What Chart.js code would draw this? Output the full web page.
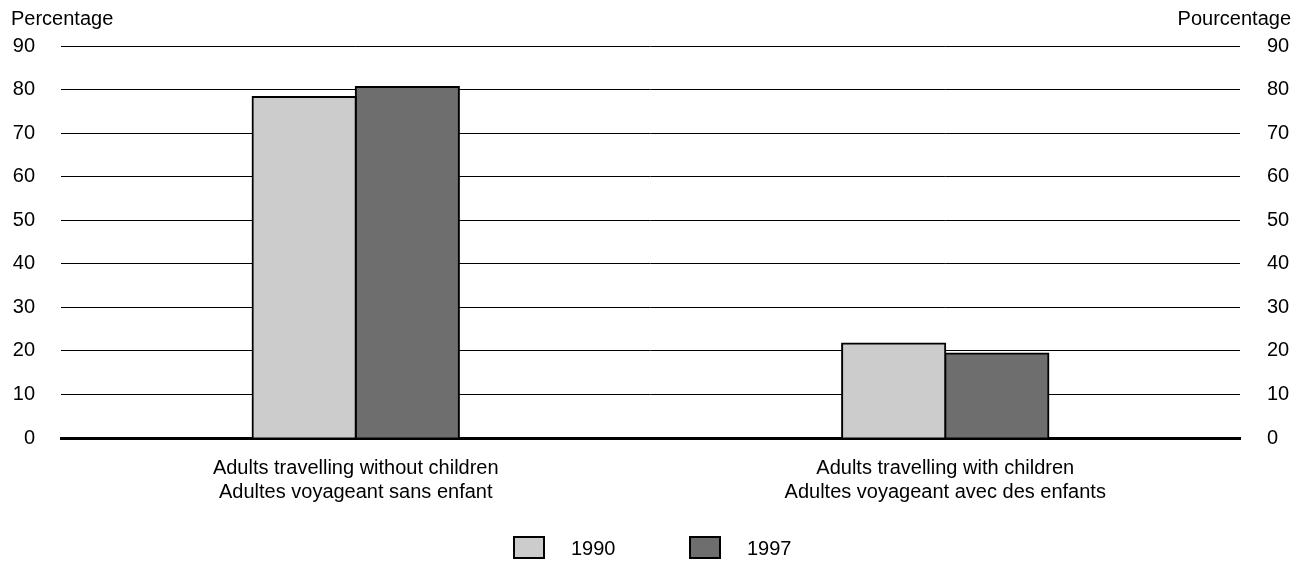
<!DOCTYPE html>
<html>
<head>
<meta charset="utf-8">
<script src="https://cdn.jsdelivr.net/npm/chart.js@4/dist/chart.umd.min.js"></script>
<style>
html,body{margin:0;padding:0;background:#fff;}
#wrap{position:relative;width:1302px;height:564px;}
</style>
</head>
<body>
<div id="wrap"><canvas id="c" width="1302" height="564"></canvas></div>
<script>
const categories = [
  ["Adults travelling without children", "Adultes voyageant sans enfant"],
  ["Adults travelling with children", "Adultes voyageant avec des enfants"]
];
const seriesLabels = ["1990", "1997"];
const values1990 = [78.3, 21.7];
const values1997 = [80.6, 19.4];
const seriesColors = ["#cccccc", "#6e6e6e"];
const yTicks = [0, 10, 20, 30, 40, 50, 60, 70, 80, 90];
const leftTitle = "Percentage";
const rightTitle = "Pourcentage";

const FONT = "'Liberation Sans', Arial, sans-serif";
const FS = 20;

const overlay = {
  id: 'overlay',
  afterDraw(chart) {
    const ctx = chart.ctx;
    ctx.save();
    ctx.font = FS + "px " + FONT;
    ctx.fillStyle = "#000";
    ctx.textBaseline = "middle";
    ctx.textAlign = "left";
    ctx.fillText(leftTitle, 11, 19);
    ctx.textAlign = "right";
    ctx.fillText(rightTitle, 1291, 19);
    // legend
    const items = chart.data.datasets.map(d => ({label: d.label, color: d.backgroundColor}));
    const positions = [514, 690];
    items.forEach((it, i) => {
      const x = positions[i];
      ctx.fillStyle = it.color;
      ctx.fillRect(x, 537, 30, 21);
      ctx.strokeStyle = "#000";
      ctx.lineWidth = 2;
      ctx.strokeRect(x, 537, 30, 21);
      ctx.fillStyle = "#000";
      ctx.textAlign = "left";
      ctx.fillText(it.label, x + 57, 549);
    });
    ctx.restore();
  }
};

new Chart(document.getElementById('c'), {
  type: 'bar',
  data: {
    labels: categories,
    datasets: [
      {label: seriesLabels[0], data: values1990, backgroundColor: seriesColors[0], borderColor: "#000", borderWidth: 2, inflateAmount: 1, yAxisID: 'y'},
      {label: seriesLabels[1], data: values1997, backgroundColor: seriesColors[1], borderColor: "#000", borderWidth: 2, inflateAmount: 1, yAxisID: 'y'}
    ]
  },
  options: {
    responsive: false,
    animation: false,
    layout: {padding: {top: 46, left: 0, right: 0, bottom: 0}},
    plugins: {legend: {display: false}, tooltip: {enabled: false}},
    datasets: {bar: {categoryPercentage: 0.35, barPercentage: 1.0}},
    scales: {
      x: {
        grid: {display: false, drawTicks: false},
        border: {display: true, color: "#000", width: 3},
        ticks: {color: "#000", font: {family: FONT, size: FS, lineHeight: 1.2}, padding: 18, maxRotation: 0, autoSkip: false},
        afterFit(s) { s.height = 126; }
      },
      y: {
        position: 'left',
        min: 0, max: 90,
        afterBuildTicks(s) { s.ticks = yTicks.map(v => ({value: v})); },
        grid: {color: "#000", lineWidth: 1, drawTicks: false},
        border: {display: false},
        ticks: {color: "#000", font: {family: FONT, size: FS}, padding: 26},
        afterFit(s) { s.width = 61; }
      },
      y2: {
        position: 'right',
        min: 0, max: 90,
        afterBuildTicks(s) { s.ticks = yTicks.map(v => ({value: v})); },
        grid: {display: false, drawTicks: false},
        border: {display: false},
        ticks: {color: "#000", font: {family: FONT, size: FS}, padding: 27},
        afterFit(s) { s.width = 62; }
      }
    }
  },
  plugins: [overlay]
});
</script>
</body>
</html>
